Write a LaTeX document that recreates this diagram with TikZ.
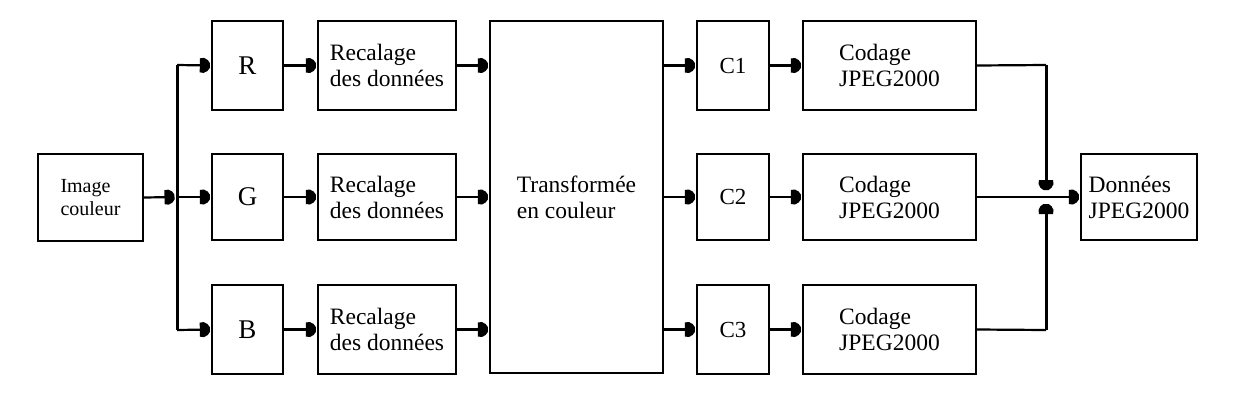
\documentclass[tikz,border=0pt]{standalone}
\usepackage{fontspec}
\setmainfont{Liberation Serif}
\pgfdeclarearrow{
  name = Bell,
  setup code = {
    \pgfarrowssettipend{0pt}
    \pgfarrowssetlineend{-4pt}
    \pgfarrowssetvisualbackend{-10pt}
    \pgfarrowssetbackend{-10pt}
    \pgfarrowshullpoint{0pt}{0pt}
    \pgfarrowshullpoint{-10pt}{7.5pt}
    \pgfarrowshullpoint{-10pt}{-7.5pt}
  },
  drawing code = {
    \pgfpathmoveto{\pgfqpoint{-10pt}{-7pt}}
    \pgfpathlineto{\pgfqpoint{-10pt}{7pt}}
    \pgfpathlineto{\pgfqpoint{-6pt}{7.5pt}}
    \pgfpathcurveto{\pgfqpoint{-3pt}{7pt}}{\pgfqpoint{-1pt}{4.5pt}}{\pgfqpoint{0pt}{2.5pt}}
    \pgfpathlineto{\pgfqpoint{0pt}{-2.5pt}}
    \pgfpathcurveto{\pgfqpoint{-1pt}{-4.5pt}}{\pgfqpoint{-3pt}{-7pt}}{\pgfqpoint{-6pt}{-7.5pt}}
    \pgfpathclose
    \pgfusepathqfill
  }
}
\tikzset{
  box/.style={draw, line width=2.4pt, inner sep=0pt, align=left,
    font=\fontsize{23.5}{26}\selectfont},
  conn/.style={line width=2.2pt},
  arr/.style={conn, -Bell, shorten >=1pt},
  bus/.style={line width=3pt},
}
\begin{document}
\begin{tikzpicture}[x=1pt,y=-1pt]
\useasboundingbox[fill=white] (0,0) rectangle (1236,402);
% input
\node[box, minimum width=105pt, minimum height=87pt, font=\fontsize{20}{23}\selectfont] (img) at (90.5,197.5) {Image\\couleur};
% channel boxes
\node[box, minimum width=71pt, minimum height=89pt, font=\fontsize{27}{30}\selectfont] (R) at (247.5,65.5) {R};
\node[box, minimum width=71pt, minimum height=86pt, font=\fontsize{27}{30}\selectfont] (G) at (247.5,197) {G};
\node[box, minimum width=71pt, minimum height=89pt, font=\fontsize{27}{30}\selectfont] (B) at (247.5,329.5) {B};
% recalage
\node[box, minimum width=138pt, minimum height=89pt] (rR) at (387,65.5) {Recalage\\des données};
\node[box, minimum width=138pt, minimum height=86pt] (rG) at (387,197) {Recalage\\des données};
\node[box, minimum width=138pt, minimum height=89pt] (rB) at (387,329.5) {Recalage\\des données};
% transform
\node[box, minimum width=173pt, minimum height=352pt] (T) at (576.5,197) {Transformée\\en couleur};
% components
\node[box, minimum width=72pt, minimum height=89pt, font=\fontsize{23}{26}\selectfont] (C1) at (733,65.5) {C1};
\node[box, minimum width=72pt, minimum height=86pt, font=\fontsize{23}{26}\selectfont] (C2) at (733,197) {C2};
\node[box, minimum width=72pt, minimum height=89pt, font=\fontsize{23}{26}\selectfont] (C3) at (733,329.5) {C3};
% coding
\node[box, minimum width=173pt, minimum height=89pt] (k1) at (889.5,65.5) {Codage\\JPEG2000};
\node[box, minimum width=173pt, minimum height=86pt] (k2) at (889.5,197) {Codage\\JPEG2000};
\node[box, minimum width=173pt, minimum height=89pt] (k3) at (889.5,329.5) {Codage\\JPEG2000};
% output
\node[box, minimum width=116pt, minimum height=86pt] (out) at (1139,197) {Données\\JPEG2000};
% bus coordinates
\coordinate (bT) at (177,65);
\coordinate (bM) at (177,197);
\coordinate (bB) at (177,330);
\coordinate (oT) at (1046,65);
\coordinate (oB) at (1046,330);
\coordinate (oM1) at (1046,190);
\coordinate (oM2) at (1046,204);
% connectors
\draw[bus] (bT) -- (bB);
\draw[arr, shorten >=2.5pt] (img.east) -- (bM);
\draw[arr] (bT) -- (R.west);
\draw[arr] (bM) -- (G.west);
\draw[arr] (bB) -- (B.west);
\draw[arr] (R) -- (rR);
\draw[arr] (G) -- (rG);
\draw[arr] (B) -- (rB);
\draw[arr] (rR.east) -- (rR.east -| T.west);
\draw[arr] (rG.east) -- (rG.east -| T.west);
\draw[arr] (rB.east) -- (rB.east -| T.west);
\draw[arr] (C1.west -| T.east) -- (C1.west);
\draw[arr] (C2.west -| T.east) -- (C2.west);
\draw[arr] (C3.west -| T.east) -- (C3.west);
\draw[arr] (C1) -- (k1);
\draw[arr] (C2) -- (k2);
\draw[arr] (C3) -- (k3);
\draw[conn] (k1.east) -- (oT);
\draw[conn] (k3.east) -- (oB);
\draw[bus, -Bell] (oT) -- (oM1);
\draw[bus, -Bell] (oB) -- (oM2);
\draw[arr] (k2) -- (out);
\end{tikzpicture}
\end{document}
